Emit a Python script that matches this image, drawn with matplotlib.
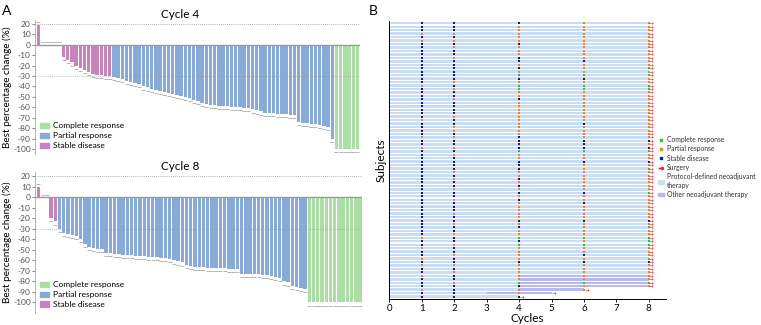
import matplotlib
matplotlib.use("Agg")
import matplotlib.pyplot as plt
from matplotlib.lines import Line2D
from matplotlib.patches import Patch
import numpy as np

plt.rcParams['font.family'] = ['Lato', 'DejaVu Sans']
plt.rcParams['axes.unicode_minus'] = False

# ---- Panel A data: best percentage change per patient ----
cycle4_values = [19, 0, 0, 0, 0, 0,
                 -12, -15, -17, -20, -22, -24, -26, -28, -29, -29, -30, -30,
                 -31, -32, -33, -35, -36, -37, -38, -40, -41, -42, -43, -44, -45, -46, -47, -48, -49, -50, -51, -53,
                 -54, -56, -57, -58, -58, -59, -59, -59, -60, -60, -60, -61, -61, -62, -63, -64, -65, -65, -65, -66,
                 -66, -66, -67, -67, -74, -75, -75, -76, -76, -77, -78, -79, -90,
                 -100, -100, -100, -100, -100, -100]
cycle4_resp = ['SD'] * 18 + ['PR'] * 53 + ['CR'] * 6

cycle8_values = [10, 0, 0, -20, -23,
                 -30, -34, -35, -36, -37, -40, -44, -47, -48, -49, -49, -53, -53, -54, -54, -55, -55, -55, -56, -56,
                 -56, -57, -57, -57, -58, -58, -59, -60, -61, -62, -64, -65,
                 -66, -66, -66, -67, -67, -67, -67, -67, -68, -68, -68, -73, -73, -73, -73, -73, -74, -74, -75, -76,
                 -77, -80, -81, -84, -85, -86, -87,
                 -100, -100, -100, -100, -100, -100, -100, -100, -100, -100, -100, -100, -100]
cycle8_resp = ['SD'] * 5 + ['PR'] * 59 + ['CR'] * 13

resp_colors = {'CR': '#aadea5', 'PR': '#88aad9', 'SD': '#c883bd'}
resp_labels = {'CR': 'Complete response', 'PR': 'Partial response', 'SD': 'Stable disease'}

# ---- Panel B data: swimmer plot, rows listed top to bottom ----
assess_cycles = [1, 2, 4, 6, 8]
resp_c1 = ("SSSPSPSSSS" "SSSSSSSSPS" "SSSSSSSSPS" "SSSPSSPSSS"
           "SSSSSSSSSS" "SSSSSSSSSS" "SSPSSPSSPS" "PSSPSSSPSS")
resp_c2 = ("SSSPSPSPSS" "PSSSSSSPSP" "SSPSSSSPSS" "PPSPSSPSPS"
           "SSSPSPSSPS" "SPSSSPSSPS" "SPSSPSSPSS" "PSPSSPSSSS")
resp_c4 = ("SPPPPPSPPP" "SSPSPCSPCC" "PPSPPPPPPP" "PPPSSSSCPP"
           "SSSPPSPSPS" "PSPPPPPSPS" "PPCSCPPPPS" "PPPPPCSPPS")
resp_c6 = ("PPPPPPPPPP" "PSPPPCSPCC" "PPPPPPPPPS" "PPPPSSSCPP"
           "SPPPPPPPPS" "PPSPPPPSPP" "PPCPCPPSPS" "PPPPPCPP--")
resp_c8 = ("PPPPPPPPPP" "PPPCPCPPCC" "PPPPPPPPPP" "PPPPSPSCPP"
           "SPCPPPPPPC" "PPPPPPPSPC" "PPCCCPPPCS" "PPPPPCP---")
protocol_end = [8] * 73 + [4, 4, 4, 4, 4, 3, 4]
other_start = [None] * 73 + [4, 4, 4, 4, 4, 3, None]
other_end = [None] * 73 + [8, 8, 8, 8, 6, 5, None]
surgery_at = [8] * 77 + [6, 5, 4]

swim_colors = {'C': '#22cc22', 'P': '#f5821f', 'S': '#101a8a'}
protocol_color = '#c9ddf6'
other_color = '#b7b7f2'

fig = plt.figure(figsize=(7.61, 3.25), dpi=100)


def waterfall(ax, values, resp, ylo):
    x = np.arange(len(values))
    cols = [resp_colors[r] for r in resp]
    ax.bar(x, values, width=0.8, color=cols, zorder=2)
    # tiny patient marks under each bar
    offs = [v - 3 if v < 0 else v + 2.5 for v in values]
    ax.plot(x, offs, ls='', marker='_', ms=2.2, mew=0.6, color='#aaaaaa', zorder=3)
    ax.axhline(0, color='#9a9a9a', lw=1.0, zorder=3)
    ax.axhline(20, color='#999999', lw=0.6, ls=(0, (1, 1.5)), zorder=3)
    ax.axhline(-30, color='#999999', lw=0.6, ls=(0, (1, 1.5)), zorder=3, alpha=0.8)
    ax.set_xlim(-0.8, len(values) - 0.5)
    ax.set_ylim(ylo, 24)
    ax.set_yticks(np.arange(20, -101, -10))
    ax.tick_params(axis='y', labelsize=6, length=2, width=0.5, colors='#555555', pad=1)
    ax.set_xticks([])
    for s in ['top', 'right', 'bottom']:
        ax.spines[s].set_visible(False)
    ax.spines['left'].set_color('#aaaaaa')
    ax.spines['left'].set_linewidth(0.6)
    ax.set_ylabel('Best percentage change (%)', fontsize=7.2, labelpad=1)
    handles = [Patch(color=resp_colors[k], label=resp_labels[k]) for k in ['CR', 'PR', 'SD']]
    ax.legend(handles=handles, loc='lower left', bbox_to_anchor=(0.0, 0.0), frameon=False,
              fontsize=6, handlelength=1.1, handleheight=0.6, labelspacing=0.35,
              handletextpad=0.5, borderaxespad=0.2)


ax1 = fig.add_axes([0.046, 0.5255, 0.4265, 0.4139])
waterfall(ax1, cycle4_values, cycle4_resp, -105)
fig.text(180 / 761, 1 - 15 / 325, 'Cycle 4', fontsize=8.5, ha='center', va='center')

ax2 = fig.add_axes([0.046, 0.0369, 0.4300, 0.4339])
waterfall(ax2, cycle8_values, cycle8_resp, -110)
fig.text(180 / 761, 1 - 167 / 325, 'Cycle 8', fontsize=8.5, ha='center', va='center')

# ---- Panel B ----
axb = fig.add_axes([0.5116, 0.0809, 0.3636, 0.8539])
n = len(protocol_end)
yv = n - 1 - np.arange(n)
axb.barh(yv, protocol_end, left=0, height=0.7, color=protocol_color, zorder=1)
for i in range(n):
    if other_start[i] is not None:
        axb.barh(yv[i], other_end[i] - other_start[i], left=other_start[i], height=0.7,
                 color=other_color, zorder=1)

for c, codes in zip(assess_cycles, [resp_c1, resp_c2, resp_c4, resp_c6, resp_c8]):
    for i, ch in enumerate(codes):
        if ch in swim_colors:
            axb.scatter(c, yv[i], marker='s', s=3.2, color=swim_colors[ch], lw=0, zorder=3)

axb.scatter(np.array(surgery_at) + 0.08, yv, marker=r'$\rightarrow$', s=7, color='#ee2222',
            lw=0.1, zorder=4)

axb.set_xlim(0, 8.53)
axb.set_ylim(-0.6, n - 0.4)
axb.set_xticks(range(0, 9))
axb.set_yticks([])
axb.tick_params(axis='x', labelsize=7, length=2.5, width=0.6, pad=1)
for s in ['top', 'right']:
    axb.spines[s].set_visible(False)
axb.spines['left'].set_linewidth(0.7)
axb.spines['bottom'].set_linewidth(0.7)
axb.set_xlabel('Cycles', fontsize=8.5, labelpad=0)
axb.set_ylabel('Subjects', fontsize=8.5, labelpad=2)

leg_handles = [
    Line2D([], [], ls='', marker='s', ms=2, color=swim_colors['C'], label='Complete response'),
    Line2D([], [], ls='', marker='s', ms=2, color=swim_colors['P'], label='Partial response'),
    Line2D([], [], ls='', marker='s', ms=2, color=swim_colors['S'], label='Stable disease'),
    Line2D([], [], ls='', marker=r'$\rightarrow$', ms=3, color='#ee2222', label='Surgery'),
    Patch(color=protocol_color, label='Protocol-defined neoadjuvant\ntherapy'),
    Patch(color=other_color, label='Other neoadjuvant therapy'),
]
fig.legend(handles=leg_handles, loc='upper left', bbox_to_anchor=(0.864, 0.582), frameon=False,
           fontsize=4.9, handlelength=1.0, handleheight=0.5, labelspacing=0.35,
           handletextpad=0.4, borderaxespad=0, borderpad=0, labelcolor='#333333')

fig.text(0.003, 0.985, 'A', fontsize=10, ha='left', va='top')
fig.text(0.484, 0.985, 'B', fontsize=10, ha='left', va='top')

fig.savefig('out.png', dpi=100)
